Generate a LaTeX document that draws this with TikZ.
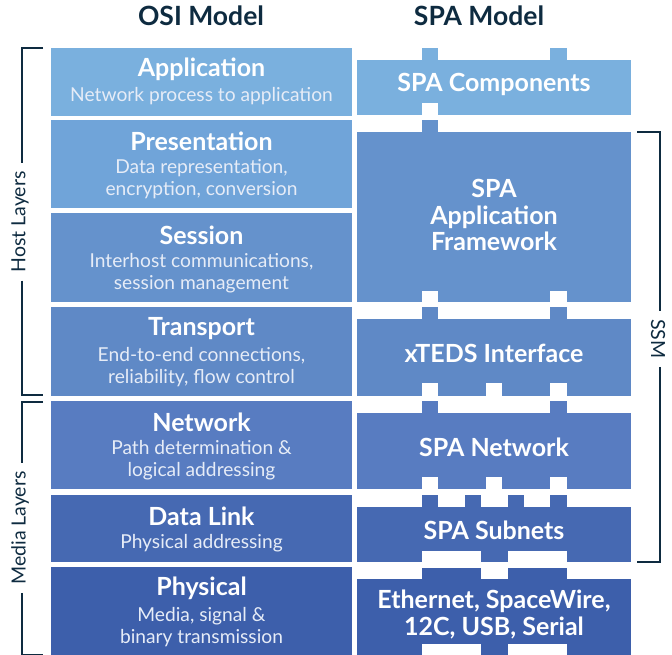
\documentclass[tikz,border=0pt]{standalone}
\usepackage{fontspec}
\setmainfont{Lato}
\definecolor{navy}{HTML}{0E2B40}
\definecolor{cA}{HTML}{7AB0DE}
\definecolor{cB}{HTML}{70A4D9}
\definecolor{cC}{HTML}{6592CC}
\definecolor{cD}{HTML}{5F89C6}
\definecolor{cE}{HTML}{587CC1}
\definecolor{cF}{HTML}{4669B2}
\definecolor{cG}{HTML}{3D5FAB}
\definecolor{subtxt}{HTML}{E6ECF7}
\tikzset{
  hdr/.style={font=\fontsize{26.5}{30}\selectfont\bfseries, text=navy},
  ttl/.style={font=\fontsize{25}{29}\selectfont\bfseries, text=white},
  sub/.style={font=\fontsize{19.2}{22}\selectfont, text=subtxt, align=center},
  spat/.style={font=\fontsize{25}{26.5}\selectfont\bfseries, text=white, align=center},
  brk/.style={navy, line width=2pt},
  brklbl/.style={font=\fontsize{19.5}{22}\selectfont, text=navy, inner sep=8pt},
}
\begin{document}
\begin{tikzpicture}[x=1pt,y=-1pt]
\useasboundingbox (0,0) rectangle (672,655);
% headers
\node[hdr] (hosi) at (201,16) {OSI Model};
\node[hdr] (hspa) at (479,16) {SPA Model};
% OSI boxes
\fill[cA] (51,48) rectangle (352,116);
\fill[cB] (51,120) rectangle (352,208);
\fill[cC] (51,213) rectangle (352,302);
\fill[cD] (51,307) rectangle (352,396);
\fill[cE] (51,401) rectangle (352,489);
\fill[cF] (51,495) rectangle (352,562);
\fill[cG] (51,567) rectangle (352,655);
\node[ttl] (t1) at (201.5,69) {Application};
\node[sub] (s1) at (201.5,96) {Network process to application};
\node[ttl] (t2) at (201.5,141) {Presentation};
\node[sub] (s2) at (201.5,179) {Data representation,\\encryption, conversion};
\node[ttl] (t3) at (201.5,235) {Session};
\node[sub] (s3) at (201.5,273.5) {Interhost communications,\\session management};
\node[ttl] (t4) at (201.5,329) {Transport};
\node[sub] (s4) at (201.5,367) {End-to-end connections,\\reliability, flow control};
\node[ttl] (t5) at (201.5,422) {Network};
\node[sub] (s5) at (201.5,460.5) {Path determination \&\\logical addressing};
\node[ttl] (t6) at (201.5,516) {Data Link};
\node[sub] (s6) at (201.5,543.5) {Physical addressing};
\node[ttl] (t7) at (201.5,588) {Physical};
\node[sub] (s7) at (201.5,627) {Media, signal \&\\binary transmission};
% SPA Components
\fill[cA] (357,60) rectangle (631,115);
\fill[cA] (422,48) rectangle (438,60);
\fill[cA] (550,48) rectangle (567,60);
\fill[white] (422,103) rectangle (438,115.5);
% Framework
\fill[cC] (357,132) rectangle (631,302);
\fill[cC] (422,120) rectangle (438,132);
\fill[white] (422,291) rectangle (438,302.5);
\fill[white] (550,291) rectangle (567,302.5);
% xTEDS
\fill[cD] (357,319) rectangle (631,396);
\fill[cD] (422,307) rectangle (438,319);
\fill[cD] (550,307) rectangle (567,319);
\fill[white] (422,383) rectangle (438,396.5);
\fill[white] (486,383) rectangle (502,396.5);
\fill[white] (550,383) rectangle (567,396.5);
% SPA Network
\fill[cE] (357,413) rectangle (631,489);
\fill[cE] (422,401) rectangle (438,413);
\fill[cE] (550,401) rectangle (567,413);
\fill[white] (422,477) rectangle (438,489.5);
\fill[white] (486,477) rectangle (502,489.5);
\fill[white] (550,477) rectangle (567,489.5);
% SPA Subnets
\fill[cF] (357,507) rectangle (631,562);
\fill[cF] (422,495) rectangle (438,507);
\fill[cF] (465,495) rectangle (481,507);
\fill[cF] (508,495) rectangle (524,507);
\fill[cF] (550,495) rectangle (567,507);
\fill[white] (422,551) rectangle (481,562.5);
\fill[white] (508,551) rectangle (567,562.5);
% Physical
\fill[cG] (357,579) rectangle (631,655);
\fill[cG] (422,568) rectangle (481,579);
\fill[cG] (508,568) rectangle (567,579);
\fill[white] (422,644) rectangle (481,655);
\fill[white] (508,644) rectangle (567,655);
% SPA texts
\node[spat] (p1) at (494,84) {SPA Components};
\node[spat] (p2) at (494,215) {SPA\\Application\\Framework};
\node[spat] (p3) at (494,353) {xTEDS Interface};
\node[spat] (p4) at (494,447) {SPA Network};
\node[spat] (p5) at (494,530) {SPA Subnets};
\node[spat] (p6) at (494,614.5) {Ethernet, SpaceWire,\\12C, USB, Serial};
% brackets
\node[brklbl, rotate=90] (lhost) at (20,222) {Host Layers};
\node[brklbl, rotate=90] (lmedia) at (20,528) {Media Layers};
\node[brklbl, rotate=-90] (lssm) at (658,339) {SSM};
\coordinate (h1) at (43,48);
\coordinate (h2) at (43,395);
\coordinate (m1) at (43,402);
\coordinate (m2) at (43,655);
\coordinate (s1a) at (637,132);
\coordinate (s2a) at (637,562);
\draw[brk] (h1) -- (22,48) -- (22,0 |- lhost.east);
\draw[brk] (22,0 |- lhost.west) -- (22,395) -- (h2);
\draw[brk] (m1) -- (22,402) -- (22,0 |- lmedia.east);
\draw[brk] (22,0 |- lmedia.west) -- (22,655) -- (m2);
\draw[brk] (s1a) -- (660,132) -- (660,0 |- lssm.west);
\draw[brk] (660,0 |- lssm.east) -- (660,562) -- (s2a);
\end{tikzpicture}
\end{document}
